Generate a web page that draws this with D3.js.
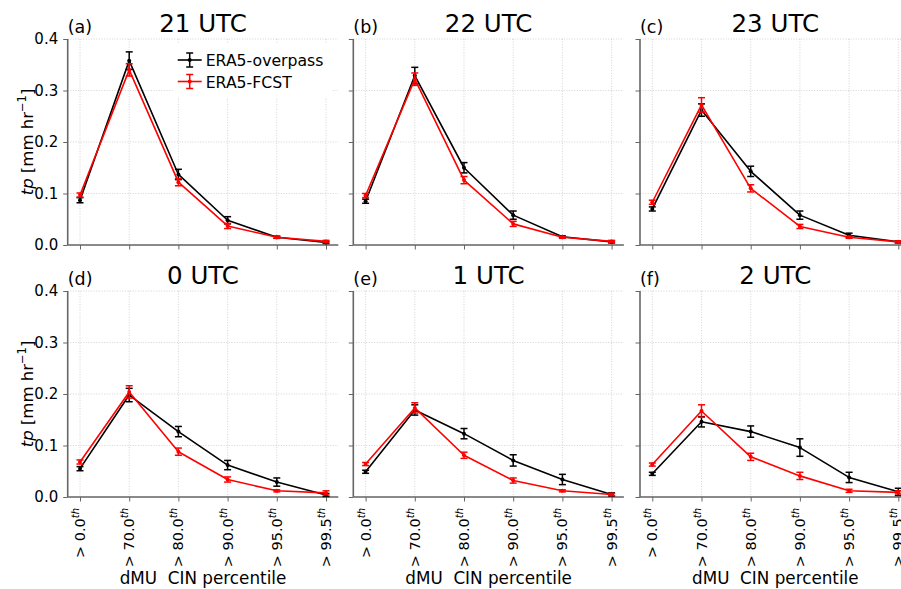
<!DOCTYPE html>
<html><head><meta charset="utf-8">
<script src="https://cdn.jsdelivr.net/npm/d3@7"></script>
<style>
body{margin:0;background:#fff;}
text{font-family:"DejaVu Sans",sans-serif;fill:#000;}
</style></head>
<body><svg id="chart" width="901" height="589"></svg>
<script>
const categories = ["0.0","70.0","80.0","90.0","95.0","99.5"];
const panelTitles = ["21 UTC","22 UTC","23 UTC","0 UTC","1 UTC","2 UTC"];
const panelLetters = ["(a)","(b)","(c)","(d)","(e)","(f)"];
const yTicks = [0.0,0.1,0.2,0.3,0.4];
const seriesNames = ["ERA5-overpass","ERA5-FCST"];
const seriesColors = ["#000000","#ff0000"];

const overpassMean = [
  [0.087,0.358,0.137,0.048,0.015,0.005],
  [0.085,0.329,0.150,0.058,0.016,0.006],
  [0.070,0.262,0.143,0.058,0.019,0.006],
  [0.055,0.198,0.127,0.062,0.029,0.004],
  [0.049,0.169,0.123,0.071,0.034,0.005],
  [0.045,0.146,0.127,0.096,0.038,0.010]
];
const overpassErr = [
  [0.005,0.017,0.010,0.007,0.002,0.002],
  [0.004,0.016,0.010,0.008,0.002,0.002],
  [0.004,0.012,0.010,0.008,0.004,0.002],
  [0.004,0.013,0.010,0.009,0.008,0.003],
  [0.003,0.010,0.010,0.011,0.010,0.003],
  [0.003,0.010,0.011,0.017,0.010,0.007]
];
const fcstMean = [
  [0.097,0.340,0.122,0.037,0.015,0.007],
  [0.096,0.322,0.126,0.041,0.015,0.007],
  [0.083,0.272,0.110,0.036,0.015,0.006],
  [0.068,0.204,0.088,0.034,0.012,0.008],
  [0.064,0.173,0.081,0.032,0.012,0.005],
  [0.063,0.167,0.078,0.041,0.012,0.009]
];
const fcstErr = [
  [0.004,0.012,0.007,0.005,0.002,0.002],
  [0.004,0.012,0.007,0.005,0.002,0.002],
  [0.004,0.014,0.007,0.004,0.002,0.002],
  [0.004,0.012,0.007,0.005,0.002,0.004],
  [0.003,0.010,0.006,0.005,0.002,0.002],
  [0.003,0.012,0.007,0.007,0.003,0.003]
];

const svg = d3.select("#chart");
const colLeft = [67.7, 353.3, 640];
const rowTop = [39, 291];
const W = 270.6, H = 206;
const gridColor = "#c8c8c8", spineColor = "#666";

panelTitles.forEach((title, p) => {
  const col = p % 3, row = Math.floor(p / 3);
  const g = svg.append("g").attr("transform", `translate(${colLeft[col]},${rowTop[row]})`);
  const x = d3.scaleLinear().domain([-0.25, 5.25]).range([0, W]);
  const y = d3.scaleLinear().domain([0, 0.4]).range([H, 0]);

  // grid
  g.append("g").selectAll("line.gx").data(categories).join("line")
    .attr("x1", (d,i)=>x(i)).attr("x2", (d,i)=>x(i)).attr("y1",0).attr("y2",H)
    .attr("stroke",gridColor).attr("stroke-width",0.8).attr("stroke-dasharray","1,1.6");
  g.append("g").selectAll("line.gy").data(yTicks).join("line")
    .attr("x1",0).attr("x2",W).attr("y1",d=>y(d)).attr("y2",d=>y(d))
    .attr("stroke",gridColor).attr("stroke-width",0.8).attr("stroke-dasharray","1,1.6");

  // axes
  const yAxis = d3.axisLeft(y).tickValues(yTicks).tickSize(4.5).tickPadding(5)
    .tickFormat(col === 0 ? d3.format(".1f") : () => "");
  const ya = g.append("g").call(yAxis);
  ya.select(".domain").attr("stroke",spineColor).attr("stroke-width",1.6).attr("d",`M0,0V${H}`);
  ya.selectAll(".tick line").attr("stroke",spineColor).attr("stroke-width",1);
  ya.selectAll(".tick text").style("font-size","15px").style("font-family","DejaVu Sans").attr("fill","#000");

  const xAxis = d3.axisBottom(x).tickValues(d3.range(categories.length)).tickSize(4.5).tickFormat(() => "");
  const xa = g.append("g").attr("transform",`translate(0,${H})`).call(xAxis);
  xa.select(".domain").attr("stroke",spineColor).attr("stroke-width",1.6).attr("d",`M0,0H${W}`);
  xa.selectAll(".tick line").attr("stroke",spineColor).attr("stroke-width",1);

  if (row === 1) {
    categories.forEach((c, i) => {
      const t = g.append("text")
        .attr("transform", `translate(${x(i)+5},${H+11}) rotate(-90)`)
        .attr("text-anchor","end").style("font-size","14.5px");
      t.append("tspan").text("> " + c);
      t.append("tspan").text("th").style("font-size","10px").style("font-style","italic").attr("dy","-6");
    });
    g.append("text").attr("x", W/2).attr("y", 584 - rowTop[row]).attr("text-anchor","middle")
      .style("font-size","16.8px").style("white-space","pre").attr("xml:space","preserve")
      .text("dMU  CIN percentile");
  }

  if (col === 0) {
    const yl = g.append("text").attr("transform",`translate(-35,${H/2}) rotate(-90)`)
      .attr("text-anchor","middle").style("font-size","16.5px");
    yl.append("tspan").text("tp").style("font-style","italic");
    yl.append("tspan").text(" [mm hr");
    yl.append("tspan").text("\u22121").style("font-size","11.5px").attr("dy","-7");
    yl.append("tspan").text("]").attr("dy","7");
  }

  // title and letter
  g.append("text").attr("x", W/2).attr("y", -7).attr("text-anchor","middle").style("font-size","24.5px").text(title);
  g.append("text").attr("x", 0).attr("y", -6).style("font-size","17.5px").text(panelLetters[p]);

  // series
  const seriesData = [[overpassMean[p], overpassErr[p]],[fcstMean[p], fcstErr[p]]];
  seriesData.forEach(([means, errs], s) => {
    const color = seriesColors[s];
    const line = d3.line().x((d,i)=>x(i)).y(d=>y(d));
    g.append("path").datum(means).attr("d", line).attr("fill","none")
      .attr("stroke",color).attr("stroke-width",1.6).attr("stroke-linejoin","round");
    const eb = g.append("g").selectAll("g").data(means).join("g");
    eb.append("line").attr("x1",(d,i)=>x(i)).attr("x2",(d,i)=>x(i))
      .attr("y1",(d,i)=>y(d-errs[i])).attr("y2",(d,i)=>y(d+errs[i]))
      .attr("stroke",color).attr("stroke-width",1.5);
    ["-","+"].forEach(sign => {
      eb.append("line").attr("x1",(d,i)=>x(i)-3.5).attr("x2",(d,i)=>x(i)+3.5)
        .attr("y1",(d,i)=>y(sign==="-"?d-errs[i]:d+errs[i]))
        .attr("y2",(d,i)=>y(sign==="-"?d-errs[i]:d+errs[i]))
        .attr("stroke",color).attr("stroke-width",1.5);
    });
    eb.append("circle").attr("cx",(d,i)=>x(i)).attr("cy",d=>y(d)).attr("r",2).attr("fill",color);
  });

  // legend
  if (p === 0) {
    const lg = g.append("g").attr("transform","translate(105,5)");
    lg.append("rect").attr("x",0).attr("y",0).attr("width",160).attr("height",53).attr("fill","#fff");
    seriesNames.forEach((name, s) => {
      const cy = 16 + s*21.5, color = seriesColors[s];
      lg.append("line").attr("x1",5).attr("x2",29).attr("y1",cy).attr("y2",cy).attr("stroke",color).attr("stroke-width",1.6);
      lg.append("line").attr("x1",17).attr("x2",17).attr("y1",cy-7).attr("y2",cy+7).attr("stroke",color).attr("stroke-width",1.5);
      lg.append("line").attr("x1",13.5).attr("x2",20.5).attr("y1",cy-7).attr("y2",cy-7).attr("stroke",color).attr("stroke-width",1.5);
      lg.append("line").attr("x1",13.5).attr("x2",20.5).attr("y1",cy+7).attr("y2",cy+7).attr("stroke",color).attr("stroke-width",1.5);
      lg.append("circle").attr("cx",17).attr("cy",cy).attr("r",2).attr("fill",color);
      lg.append("text").attr("x",33).attr("y",cy+6).style("font-size","15.7px").text(name);
    });
  }
});
</script></body></html>
